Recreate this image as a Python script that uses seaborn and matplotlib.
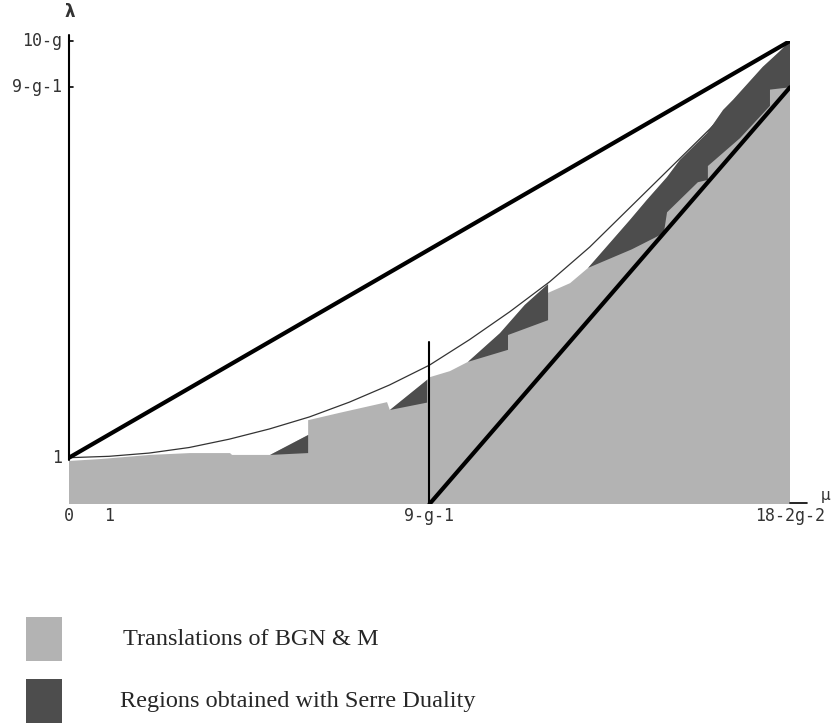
import seaborn as sns
import matplotlib.pyplot as plt
from matplotlib.patches import Rectangle

sns.set_style("white")

# thin curve from (0,1) to (18,10)
curve_mu = [0, 1, 2, 3, 4, 5, 6, 7, 8, 9, 10, 11, 12, 13, 14, 15, 16, 17, 18]
curve_lam = [1.0, 1.03, 1.10, 1.22, 1.40, 1.62, 1.88, 2.2, 2.57, 3.0,
             3.55, 4.15, 4.8, 5.55, 6.4, 7.25, 8.1, 9.0, 10.0]

# top edge of the light gray region (translations)
gray_mu = [0, 0.77, 2.02, 3.02, 4.02, 4.07, 5.02, 5.97, 5.97, 6.76, 7.94, 8.01,
           8.94, 9.01, 9.51, 9.96, 10.76, 11.38, 11.96, 11.96, 12.51, 12.96,
           14.0, 14.43, 14.93, 15.25, 15.93, 16.33, 16.58, 17.32, 18]
gray_lam = [0.93, 0.97, 1.06, 1.10, 1.10, 1.06, 1.06, 1.49, 1.81, 1.97, 2.20, 2.03,
            2.68, 2.74, 2.87, 3.07, 3.69, 4.30, 4.75, 4.56, 4.77, 5.10,
            6.13, 6.57, 7.06, 7.43, 8.01, 8.51, 8.73, 9.44, 9.98]

# dark regions (Serre duality)
dark1_mu = [5.02, 5.97, 5.97]
dark1_lam = [1.06, 1.49, 1.10]
dark2_mu = [8.01, 8.94, 8.94]
dark2_lam = [2.03, 2.68, 2.19]
dark3_mu = [9.96, 10.76, 11.38, 11.96, 11.96, 10.96, 10.96]
dark3_lam = [3.07, 3.69, 4.30, 4.75, 3.97, 3.65, 3.33]
dark4_mu = [12.96, 14.0, 14.43, 14.93, 15.25, 15.93, 16.33, 16.58, 17.32, 18,
            18, 17.5, 17.5, 16.75, 15.95, 15.95, 15.7, 14.93, 14.85, 14.05]
dark4_lam = [5.10, 6.13, 6.57, 7.06, 7.43, 8.01, 8.51, 8.73, 9.44, 9.98,
             9.0, 8.95, 8.6, 7.9, 7.3, 7.0, 6.95, 6.3, 5.85, 5.5]

upper_mu = [0, 18]
upper_lam = [1, 10]
lower_mu = [9, 18]
lower_lam = [0, 9]

x_ticks = [0, 1, 9, 18]
x_labels = ["0", "1", "9-g-1", "18-2g-2"]
y_ticks = [1, 9, 10]
y_labels = ["1", "9-g-1", "10-g"]

legend_labels = ["Translations of BGN & M", "Regions obtained with Serre Duality"]

light = "#b3b3b3"
dark = "#4d4d4d"

fig = plt.figure(figsize=(8.34, 7.28), dpi=100)
ax = fig.add_axes([69 / 834, (728 - 504) / 728, 721 / 834, 463 / 728])
ax.set_xlim(0, 18)
ax.set_ylim(0, 10)
ax.axis("off")

ax.fill(gray_mu + [18, 0], gray_lam + [0, 0], color=light, lw=0, zorder=1)
sns.lineplot(x=curve_mu, y=curve_lam, ax=ax, color="#333333", lw=0.9, zorder=2)
for mu, lam in [(dark1_mu, dark1_lam), (dark2_mu, dark2_lam),
                (dark3_mu, dark3_lam), (dark4_mu, dark4_lam)]:
    ax.fill(mu, lam, color=dark, lw=0, zorder=3)

ax.plot([9, 9], [0, 3.5], color="black", lw=1.5, zorder=4)
sns.lineplot(x=upper_mu, y=upper_lam, ax=ax, color="black", lw=3, zorder=5)
sns.lineplot(x=lower_mu, y=lower_lam, ax=ax, color="black", lw=3, zorder=5)

# vertical axis with small ticks
ax.plot([0, 0], [0.95, 10.13], color="black", lw=1.5, zorder=5, clip_on=False)
for t in [9, 10]:
    ax.plot([0, 0.1], [t, t], color="black", lw=1.2, zorder=5, clip_on=False)
ax.plot([18, 18.42], [0.02, 0.02], color="black", lw=1.2, clip_on=False)

mono = dict(family="DejaVu Sans Mono", fontsize=12, color="#333333")
for t, lab in zip(x_ticks, x_labels):
    ax.text(t, -0.26, lab, ha="center", va="center", clip_on=False, **mono)
for t, lab in zip(y_ticks, y_labels):
    ax.text(-0.18, t, lab, ha="right", va="center", clip_on=False, **mono)
ax.text(0.03, 10.62, "λ", ha="center", va="center", fontsize=12,
        fontweight="bold", color="#333333")
ax.text(18.9, 0.18, "μ", ha="center", va="center", fontsize=11, color="#333333")

# legend
fig.add_artist(Rectangle((26 / 834, (728 - 661) / 728), 36 / 834, 44 / 728,
                         transform=fig.transFigure, color=light, lw=0))
fig.add_artist(Rectangle((26 / 834, (728 - 723) / 728), 36 / 834, 44 / 728,
                         transform=fig.transFigure, color=dark, lw=0))
fig.text(123 / 834, (728 - 645) / 728, legend_labels[0], family="Liberation Serif",
         fontsize=17.5, va="baseline", ha="left")
fig.text(120 / 834, (728 - 707) / 728, legend_labels[1], family="Liberation Serif",
         fontsize=17.5, va="baseline", ha="left")

fig.savefig("out.png", dpi=100)
